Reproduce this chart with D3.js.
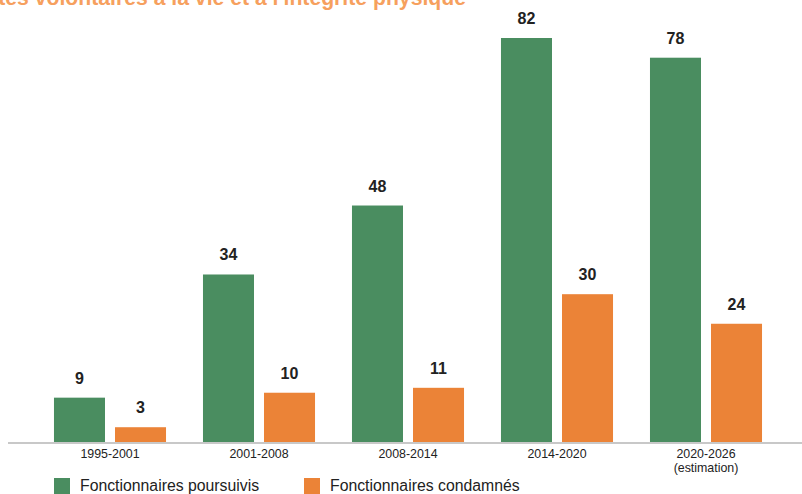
<!DOCTYPE html>
<html lang="fr">
<head>
<meta charset="utf-8">
<script src="https://cdn.jsdelivr.net/npm/d3@7"></script>
<style>
  html, body { margin: 0; padding: 0; background: #fff; }
  svg { display: block; font-family: "Liberation Sans", Arial, sans-serif; }
</style>
</head>
<body>
<svg id="chart" width="802" height="494"></svg>
<script>
// Périodes et séries
const periods = ["1995-2001", "2001-2008", "2008-2014", "2014-2020", "2020-2026"];
const periodNotes = ["", "", "", "", "(estimation)"];
const seriesNames = ["Fonctionnaires poursuivis", "Fonctionnaires condamnés"];
const poursuivis = [9, 34, 48, 82, 78];
const condamnes = [3, 10, 11, 30, 24];
const colors = ["#4A8D60", "#EB8337"];
const title = "Atteintes volontaires à la vie et à l'intégrité physique";

const svg = d3.select("#chart");
const W = 802, H = 494;
const baseY = 442;

const rows = periods.map((p, i) => ({ period: p, note: periodNotes[i], values: [poursuivis[i], condamnes[i]] }));

const x0 = d3.scaleBand().domain(periods).range([35.5, 780.5]).paddingInner(0.248).paddingOuter(0.124);
const x1 = d3.scaleBand().domain(d3.range(seriesNames.length)).range([0, x0.bandwidth()]).paddingInner(0.164);
const y = d3.scaleLinear().domain([0, 82]).range([baseY, 38]);

// Titre (coupé en haut)
svg.append("text")
  .attr("x", 466).attr("y", 5)
  .attr("text-anchor", "end")
  .attr("font-size", 21.2).attr("font-weight", 700)
  .attr("fill", "#F6A05E")
  .text(title);

const groups = svg.append("g").selectAll("g").data(rows).join("g")
  .attr("transform", d => `translate(${x0(d.period)},0)`);

groups.selectAll("rect").data(d => d.values.map((v, k) => ({ v, k }))).join("rect")
  .attr("x", d => x1(d.k))
  .attr("width", x1.bandwidth())
  .attr("y", d => y(d.v))
  .attr("height", d => baseY - y(d.v))
  .attr("fill", d => colors[d.k]);

groups.selectAll("text.val").data(d => d.values.map((v, k) => ({ v, k }))).join("text")
  .attr("class", "val")
  .attr("x", d => x1(d.k) + x1.bandwidth() / 2)
  .attr("y", d => y(d.v) - 14)
  .attr("text-anchor", "middle")
  .attr("font-size", 16).attr("font-weight", 700)
  .attr("fill", "#222")
  .text(d => d.v);

// Axe horizontal
svg.append("line")
  .attr("x1", 8).attr("x2", W).attr("y1", baseY + 1).attr("y2", baseY + 1)
  .attr("stroke", "#c8c8c8").attr("stroke-width", 2);

const xAxis = svg.append("g").attr("transform", `translate(0,${baseY})`)
  .call(d3.axisBottom(x0).tickSize(0).tickPadding(0));
xAxis.select(".domain").remove();
xAxis.selectAll(".tick text").remove();
xAxis.selectAll(".tick").each(function (p, i) {
  const tick = d3.select(this);
  tick.append("text")
    .attr("text-anchor", "middle").attr("y", 16.4)
    .attr("font-size", 12.4).attr("fill", "#222")
    .text(p);
  if (periodNotes[i]) {
    tick.append("text")
      .attr("text-anchor", "middle").attr("y", 30.4)
      .attr("font-size", 12.4).attr("fill", "#222")
      .text(periodNotes[i]);
  }
});

// Légende
const legend = svg.append("g").selectAll("g").data(seriesNames).join("g")
  .attr("transform", (d, i) => `translate(${i === 0 ? 54 : 304},478)`);
legend.append("rect").attr("width", 16).attr("height", 16).attr("fill", (d, i) => colors[i]);
legend.append("text").attr("x", 26).attr("y", 13)
  .attr("font-size", 15.8).attr("fill", "#222").text(d => d);
</script>
</body>
</html>
